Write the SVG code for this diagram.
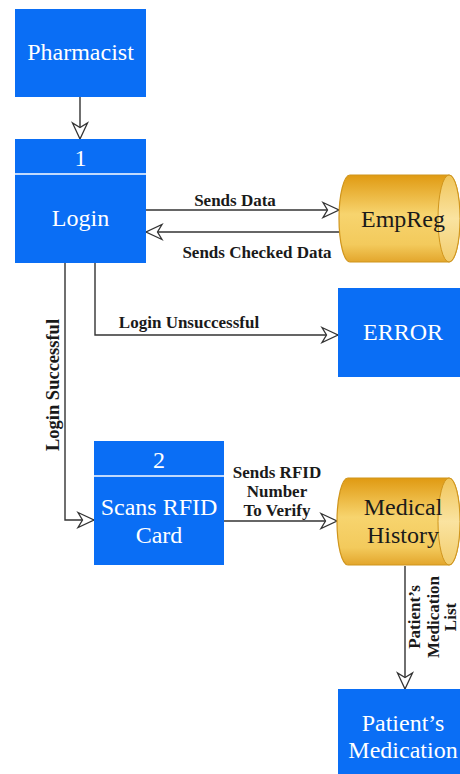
<svg xmlns="http://www.w3.org/2000/svg" width="460" height="774" viewBox="0 0 460 774">
<style>
.box{fill:#0a6ef5;}
.div{stroke:#ffffff;stroke-width:1.5;}
.wt{font-family:"Liberation Serif","Times New Roman",serif;font-size:24px;fill:#ffffff;text-anchor:middle;}
.dt{font-family:"Liberation Serif","Times New Roman",serif;font-size:24px;fill:#1a1a1a;text-anchor:middle;}
.lb{font-family:"Liberation Serif","Times New Roman",serif;font-size:17px;font-weight:bold;fill:#1a1a1a;text-anchor:middle;}
.cn{fill:none;stroke:#333333;stroke-width:1.4;marker-end:url(#arr);}
.cyl{fill:url(#gold);stroke:#d0951c;stroke-width:1.2;}
.cap{fill:url(#capg);stroke:#d0951c;stroke-width:1;}
</style>
<defs>
<marker id="arr" markerUnits="userSpaceOnUse" markerWidth="20" markerHeight="18" viewBox="0 0 20 18" refX="18" refY="9" orient="auto">
<path d="M2,1.5 L18,9 L2,16.5 L6.5,9 Z" fill="#ffffff" stroke="#333333" stroke-width="1.3" stroke-linejoin="miter"/>
</marker>
<linearGradient id="gold" x1="0" y1="0" x2="0" y2="1">
<stop offset="0" stop-color="#e09a12"/>
<stop offset="0.45" stop-color="#f7d46e"/>
<stop offset="0.8" stop-color="#f3ca5c"/>
<stop offset="1" stop-color="#e3a62c"/>
</linearGradient>
<linearGradient id="capg" x1="0" y1="0" x2="0" y2="1">
<stop offset="0" stop-color="#f0c55a"/>
<stop offset="0.5" stop-color="#fae3a0"/>
<stop offset="1" stop-color="#f2cd6e"/>
</linearGradient>
</defs>

<g id="connectors">
<path class="cn" d="M80,97 V139"/>
<path class="cn" d="M146,210 H339"/>
<path class="cn" d="M339,232 H146"/>
<path class="cn" d="M95,263 V335 H338"/>
<path class="cn" d="M65,263 V520 H94"/>
<path class="cn" d="M224,521 H337"/>
<path class="cn" d="M405,566 V689"/>
<text class="lb" x="235" y="206">Sends Data</text>
<text class="lb" x="257" y="258">Sends Checked Data</text>
<text class="lb" x="189" y="328">Login Unsuccessful</text>
<text class="lb" transform="translate(53,385) rotate(-90)" x="0" y="6" style="font-size:18.5px">Login Successful</text>
<text class="lb" x="277" y="478">Sends RFID</text>
<text class="lb" x="277" y="497">Number</text>
<text class="lb" x="277" y="516">To Verify</text>
<g transform="translate(434,617) rotate(-90)">
<text class="lb" x="0" y="-14">Patient’s</text>
<text class="lb" x="0" y="5">Medication</text>
<text class="lb" x="0" y="22">List</text>
</g>
</g>

<g id="pharmacist">
<rect class="box" x="15" y="9" width="131" height="88"/>
<text class="wt" x="80.5" y="60">Pharmacist</text>
</g>

<g id="login">
<rect class="box" x="15" y="139" width="131" height="124"/>
<line class="div" x1="15" y1="174" x2="146" y2="174"/>
<text class="wt" x="80.5" y="166">1</text>
<text class="wt" x="80.5" y="226">Login</text>
</g>

<g id="empreg">
<path class="cyl" d="M350,175 H449 A11,43.5 0 0 1 449,262 H350 A11,43.5 0 0 1 350,175 Z"/>
<ellipse class="cap" cx="449" cy="218.5" rx="11" ry="43.5"/>
<text class="dt" x="403" y="227">EmpReg</text>
</g>

<g id="error">
<rect class="box" x="338" y="288" width="124" height="89"/>
<text class="wt" x="403" y="340">ERROR</text>
</g>

<g id="scans">
<rect class="box" x="94" y="441" width="130" height="124"/>
<line class="div" x1="94" y1="476" x2="224" y2="476"/>
<text class="wt" x="159" y="468">2</text>
<text class="wt" x="159" y="515">Scans RFID</text>
<text class="wt" x="159" y="543">Card</text>
</g>

<g id="medical">
<path class="cyl" d="M348,478 H449 A11,43.5 0 0 1 449,565 H348 A11,43.5 0 0 1 348,478 Z"/>
<ellipse class="cap" cx="449" cy="521.5" rx="11" ry="43.5"/>
<text class="dt" x="403" y="515">Medical</text>
<text class="dt" x="403" y="543">History</text>
</g>

<g id="patients-medication">
<rect class="box" x="338" y="689" width="124" height="90"/>
<text class="wt" x="403" y="731">Patient’s</text>
<text class="wt" x="403" y="758">Medication</text>
</g>
</svg>
